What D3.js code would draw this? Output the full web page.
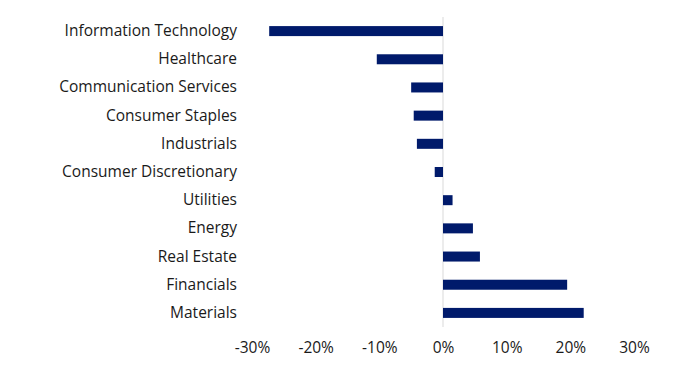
<!DOCTYPE html>
<html>
<head>
<meta charset="utf-8">
<script src="https://cdn.jsdelivr.net/npm/d3@7"></script>
<style>
  html, body { margin: 0; padding: 0; background: #fff; }
  svg text { font-family: "Open Sans", sans-serif; fill: #1a1a1a; }
</style>
</head>
<body>
<svg id="chart" width="699" height="380"></svg>
<script>
const categories = ["Information Technology", "Healthcare", "Communication Services", "Consumer Staples", "Industrials", "Consumer Discretionary", "Utilities", "Energy", "Real Estate", "Financials", "Materials"];
const values = [-27.3, -10.4, -5.0, -4.6, -4.1, -1.3, 1.5, 4.7, 5.8, 19.5, 22.1];
const xTicks = [-30, -20, -10, 0, 10, 20, 30];

const svg = d3.select("#chart");
const x = d3.scaleLinear().domain([-30, 30]).range([252, 634]);
const y = d3.scaleBand().domain(categories).range([17, 327]).paddingInner(0.645).paddingOuter(0.3225);

// zero line
svg.append("line")
  .attr("x1", x(0)).attr("x2", x(0))
  .attr("y1", 17).attr("y2", 327)
  .attr("stroke", "#d9d9d9").attr("stroke-width", 1);

svg.append("g").selectAll("rect")
  .data(categories)
  .join("rect")
  .attr("x", (d, i) => Math.min(x(0), x(values[i])))
  .attr("width", (d, i) => Math.abs(x(values[i]) - x(0)))
  .attr("y", d => y(d))
  .attr("height", y.bandwidth())
  .attr("fill", "#001a6b");

// category labels
const yAxis = d3.axisLeft(y).tickSize(0).tickPadding(0);
const gy = svg.append("g").attr("transform", "translate(237,0)").call(yAxis);
gy.select(".domain").remove();
gy.selectAll("text").attr("font-size", 15.5).style("font-family", "'Open Sans', sans-serif").attr("fill", "#111");

// x axis labels
const xAxis = d3.axisBottom(x).tickValues(xTicks).tickSize(0).tickPadding(0).tickFormat(d => d + "%");
const gx = svg.append("g").attr("transform", "translate(0,342)").call(xAxis);
gx.select(".domain").remove();
gx.selectAll("text").attr("font-size", 15.5).style("font-family", "'Open Sans', sans-serif").attr("fill", "#111");
</script>
</body>
</html>
